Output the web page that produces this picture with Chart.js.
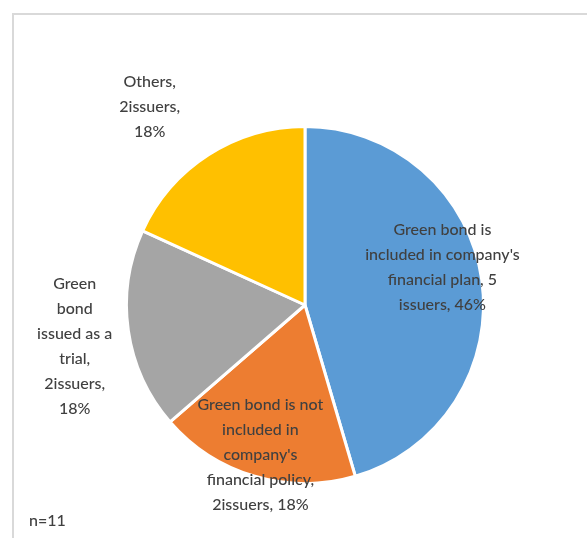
<!DOCTYPE html>
<html>
<head>
<meta charset="UTF-8">
<style>
  html, body { margin: 0; padding: 0; background: #fff; }
  #wrap { position: relative; width: 587px; height: 538px; overflow: hidden; }
  #frame { position: absolute; left: 12px; top: 13px; width: 600px; height: 600px;
           border-top: 2px solid #d9d9d9; border-left: 2px solid #d9d9d9; }
  canvas { position: absolute; left: 0; top: 0; }
</style>
</head>
<body>
<div id="wrap">
  <div id="frame"></div>
  <canvas id="chart" width="587" height="538"></canvas>
</div>
<script src="https://cdn.jsdelivr.net/npm/chart.js@4/dist/chart.umd.min.js"></script>
<script>
  // issuers per answer, n=11
  const categories = [
    'Green bond is included in company\'s financial plan',
    'Green bond is not included in company\'s financial policy',
    'Green bond issued as a trial',
    'Others'
  ]
  const issuers = [5, 2, 2, 2]
  const percents = [46, 18, 18, 18]
  const labelLines = [
    ['Green bond is', 'included in company\'s', 'financial plan, 5', 'issuers, 46%'],
    ['Green bond is not', 'included in', 'company\'s', 'financial policy,', '2issuers, 18%'],
    ['Green', 'bond', 'issued as a', 'trial,', '2issuers,', '18%'],
    ['Others,', '2issuers,', '18%']
  ]
  const colors = ['#5b9bd5', '#ed7d31', '#a5a5a5', '#ffc000']
  // label centre relative to pie centre, in radius units
  const labelPos = [[0.77, -0.21], [-0.25, 0.84], [-1.29, 0.23], [-0.87, -1.11]]

  const font = '500 16px Lato, "Liberation Sans", sans-serif'

  const pieLabels = {
    id: 'pieLabels',
    afterDatasetsDraw(chart) {
      const c = chart.ctx
      const arcs = chart.getDatasetMeta(0).data
      c.save()
      c.font = font
      c.fillStyle = '#404040'
      c.textAlign = 'center'
      c.textBaseline = 'middle'
      arcs.forEach((arc, i) => {
        const { x, y, outerRadius } = arc.getProps(['x', 'y', 'outerRadius'], true)
        const lines = labelLines[i]
        const lh = 25
        const cx = x + labelPos[i][0] * outerRadius
        const cy = y + labelPos[i][1] * outerRadius
        lines.forEach((t, k) => {
          c.fillText(t, cx, cy + (k - (lines.length - 1) / 2) * lh)
        })
      })
      c.textAlign = 'left'
      c.fillText('n=11', 29, 521)
      c.restore()
    }
  }

  new Chart(document.getElementById('chart'), {
    type: 'pie',
    data: {
      labels: categories,
      datasets: [{
        data: issuers,
        backgroundColor: colors,
        borderColor: '#ffffff',
        borderWidth: 3
      }]
    },
    options: {
      responsive: false,
      animation: false,
      layout: { padding: { left: 125, right: 102, top: 125, bottom: 53 } },
      plugins: { legend: { display: false }, tooltip: { enabled: false } }
    },
    plugins: [pieLabels]
  })
</script>
</body>
</html>
